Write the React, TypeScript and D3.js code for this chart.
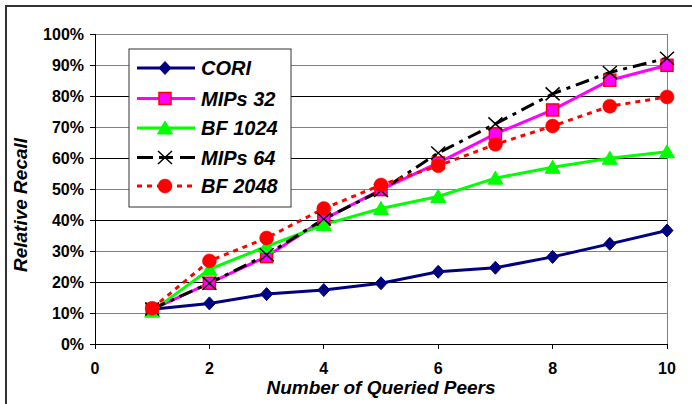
import React from "react";
import * as d3 from "d3";

const peers = [1, 2, 3, 4, 5, 6, 7, 8, 9, 10];
const cori = [11.2, 13.1, 16.1, 17.4, 19.6, 23.3, 24.6, 28.1, 32.3, 36.6];
const mips32 = [11.2, 19.6, 28.2, 40.2, 49.8, 58.4, 67.8, 75.5, 85.1, 89.9];
const bf1024 = [10.6, 24.1, 31.5, 38.5, 43.7, 47.6, 53.5, 57.0, 59.9, 62.0];
const mips64 = [11.3, 19.6, 28.8, 40.3, 49.5, 61.6, 71.0, 80.7, 87.6, 92.2];
const bf2048 = [11.5, 26.8, 34.2, 43.7, 51.3, 57.5, 64.4, 70.3, 76.7, 79.7];
const yTicks = [0, 10, 20, 30, 40, 50, 60, 70, 80, 90, 100];
const xTicks = [0, 2, 4, 6, 8, 10];
const seriesNames = ["CORI", "MIPs 32", "BF 1024", "MIPs 64", "BF 2048"];

type Series = {
  name: string;
  values: number[];
  color: string;
  dash?: string;
  legendDash?: string;
  marker: "diamond" | "square" | "triangle" | "x" | "circle";
};

const series: Series[] = [
  { name: seriesNames[0], values: cori, color: "#000080", marker: "diamond" },
  { name: seriesNames[1], values: mips32, color: "#FF00FF", marker: "square" },
  { name: seriesNames[2], values: bf1024, color: "#00FF00", marker: "triangle" },
  { name: seriesNames[3], values: mips64, color: "#000000", dash: "14,6,4,6", legendDash: "16,6,14,7,15", marker: "x" },
  { name: seriesNames[4], values: bf2048, color: "#FF0000", dash: "5,5", legendDash: "5,5", marker: "circle" },
];

function Marker({ type, cx, cy }: { type: Series["marker"]; cx: number; cy: number }) {
  switch (type) {
    case "diamond":
      return (
        <path
          d={`M${cx},${cy - 6.5}L${cx + 6},${cy}L${cx},${cy + 6.5}L${cx - 6},${cy}Z`}
          fill="#000080"
          stroke="#000080"
          strokeWidth={1}
        />
      );
    case "square":
      return (
        <rect x={cx - 6} y={cy - 6} width={12} height={12} fill="#FF00FF" stroke="#FF0000" strokeWidth={1.5} />
      );
    case "triangle":
      return (
        <path
          d={`M${cx},${cy - 7}L${cx + 7.5},${cy + 6}L${cx - 7.5},${cy + 6}Z`}
          fill="#00FF00"
          stroke="#00FF00"
          strokeWidth={1}
        />
      );
    case "x":
      return (
        <path
          d={`M${cx - 7},${cy - 6.5}L${cx + 7},${cy + 6.5}M${cx - 7},${cy + 6.5}L${cx + 7},${cy - 6.5}`}
          stroke="#000000"
          strokeWidth={1.5}
          fill="none"
        />
      );
    case "circle":
      return <ellipse cx={cx} cy={cy} rx={7} ry={7} fill="#FF0000" stroke="#FF0000" strokeWidth={0.5} />;
  }
}

export default function App() {
  const W = 692;
  const H = 404;
  const x = d3.scaleLinear().domain([0, 10]).range([95, 667]);
  const y = d3.scaleLinear().domain([0, 100]).range([344, 34]);
  const line = d3
    .line<number>()
    .x((_, i) => x(peers[i]))
    .y((v) => y(v));

  const legendX = 129;
  const legendY = 49;
  const legendW = 162;
  const legendH = 158;
  const rowY = [68, 98.5, 128, 157.5, 186];
  const font = "Arial, 'Liberation Sans', Helvetica, sans-serif";

  return (
    <svg
      width={W}
      height={H}
      style={{ position: "absolute", left: 0, top: 0, background: "#fff" }}
      fontFamily={font}
    >
      <rect x={0} y={0} width={W} height={H} fill="#fff" />
      {/* outer chart frame */}
      <rect x={6} y={6} width={W + 20} height={H + 20} fill="none" stroke="#333" strokeWidth={2} />

      {/* gridlines */}
      {yTicks
        .filter((t) => t > 0)
        .map((t) => (
          <line
            key={"g" + t}
            x1={x(0)}
            x2={x(10)}
            y1={y(t)}
            y2={y(t)}
            stroke={t === 100 || (t / 10) % 2 === 1 ? "#808080" : "#000"}
            strokeWidth={1}
            shapeRendering="crispEdges"
          />
        ))}
      {/* right plot border */}
      <line x1={x(10)} x2={x(10)} y1={y(100)} y2={y(0)} stroke="#808080" strokeWidth={1} shapeRendering="crispEdges" />

      {/* axes */}
      <line x1={x(0)} x2={x(0)} y1={y(100)} y2={y(0)} stroke="#000" strokeWidth={1} shapeRendering="crispEdges" />
      <line x1={x(0)} x2={x(10)} y1={y(0)} y2={y(0)} stroke="#000" strokeWidth={1} shapeRendering="crispEdges" />
      {yTicks.map((t) => (
        <g key={"yt" + t}>
          <line x1={x(0) - 5} x2={x(0)} y1={y(t)} y2={y(t)} stroke="#000" shapeRendering="crispEdges" />
          <text x={84} y={y(t)} dy="0.36em" textAnchor="end" fontSize={16} fontWeight="bold" fill="#000">
            {t + "%"}
          </text>
        </g>
      ))}
      {xTicks.map((t) => (
        <g key={"xt" + t}>
          <line x1={x(t)} x2={x(t)} y1={y(0)} y2={y(0) + 5} stroke="#000" shapeRendering="crispEdges" />
          <text x={x(t)} y={374} textAnchor="middle" fontSize={16} fontWeight="bold" fill="#000">
            {t}
          </text>
        </g>
      ))}

      {/* axis titles */}
      <text x={381} y={394} textAnchor="middle" fontSize={19} fontWeight="bold" fontStyle="italic" fill="#000">
        Number of Queried Peers
      </text>
      <text
        transform="translate(27,205) rotate(-90)"
        textAnchor="middle"
        fontSize={19}
        fontWeight="bold"
        fontStyle="italic"
        fill="#000"
      >
        Relative Recall
      </text>

      {/* series lines */}
      {series.map((s) => (
        <path
          key={"l" + s.name}
          d={line(s.values) || ""}
          fill="none"
          stroke={s.color}
          strokeWidth={3}
          strokeDasharray={s.dash}
        />
      ))}
      {/* markers, drawn per series in order */}
      {series.map((s) => (
        <g key={"m" + s.name}>
          {s.values.map((v, i) => (
            <Marker key={i} type={s.marker} cx={x(peers[i])} cy={y(v)} />
          ))}
        </g>
      ))}

      {/* legend */}
      <rect x={legendX} y={legendY} width={legendW} height={legendH} fill="#fff" stroke="#333" strokeWidth={1} />
      {series.map((s, i) => (
        <g key={"lg" + s.name}>
          <line
            x1={137}
            x2={195}
            y1={rowY[i]}
            y2={rowY[i]}
            stroke={s.color}
            strokeWidth={3}
            strokeDasharray={s.legendDash}
          />
          <Marker type={s.marker} cx={165} cy={rowY[i]} />
          <text
            x={201}
            y={rowY[i]}
            dy="0.36em"
            fontSize={20}
            fontWeight="bold"
            fontStyle="italic"
            fill="#000"
          >
            {s.name}
          </text>
        </g>
      ))}
    </svg>
  );
}
